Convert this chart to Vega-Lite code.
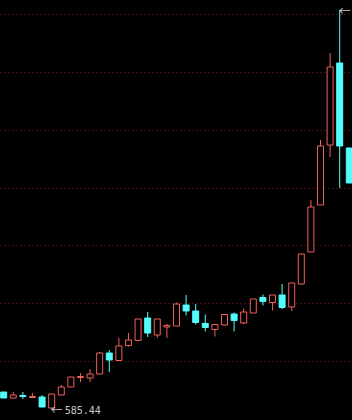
{
  "$schema": "https://vega.github.io/schema/vega-lite/v6.json",
  "width": 352,
  "height": 420,
  "autosize": {"type": "none"},
  "padding": 0,
  "background": "#000000",
  "config": {"view": {"stroke": null}},
  "datasets": {
    "k": [
      {"i": 0, "dir": "down", "open": 627.94, "close": 612.94, "high": 627.94, "low": 612.94},
      {"i": 1, "dir": "up", "open": 612.94, "close": 620.44, "high": 627.94, "low": 612.94},
      {"i": 2, "dir": "down", "open": 619.19, "close": 616.69, "high": 627.94, "low": 610.44},
      {"i": 3, "dir": "up", "open": 614.19, "close": 616.69, "high": 625.44, "low": 614.19},
      {"i": 4, "dir": "down", "open": 615.44, "close": 590.44, "high": 620.44, "low": 590.44},
      {"i": 5, "dir": "up", "open": 587.94, "close": 622.94, "high": 622.94, "low": 585.44},
      {"i": 6, "dir": "up", "open": 620.44, "close": 640.44, "high": 645.44, "low": 620.44},
      {"i": 7, "dir": "up", "open": 640.44, "close": 665.44, "high": 665.44, "low": 640.44},
      {"i": 8, "dir": "up", "open": 664.19, "close": 666.69, "high": 675.44, "low": 652.94},
      {"i": 9, "dir": "up", "open": 662.94, "close": 672.94, "high": 685.44, "low": 652.94},
      {"i": 10, "dir": "up", "open": 672.94, "close": 725.44, "high": 727.94, "low": 672.94},
      {"i": 11, "dir": "down", "open": 725.44, "close": 707.94, "high": 732.94, "low": 677.94},
      {"i": 12, "dir": "up", "open": 706.69, "close": 742.94, "high": 762.94, "low": 706.69},
      {"i": 13, "dir": "up", "open": 744.19, "close": 757.94, "high": 775.44, "low": 741.69},
      {"i": 14, "dir": "up", "open": 756.69, "close": 810.44, "high": 810.44, "low": 756.69},
      {"i": 15, "dir": "down", "open": 812.94, "close": 775.44, "high": 827.94, "low": 765.44},
      {"i": 16, "dir": "up", "open": 770.44, "close": 810.44, "high": 810.44, "low": 762.94},
      {"i": 17, "dir": "up", "open": 790.44, "close": 794.19, "high": 797.94, "low": 762.94},
      {"i": 18, "dir": "up", "open": 792.94, "close": 847.94, "high": 851.69, "low": 792.94},
      {"i": 19, "dir": "down", "open": 845.44, "close": 830.44, "high": 870.44, "low": 819.19},
      {"i": 20, "dir": "down", "open": 830.44, "close": 801.69, "high": 847.94, "low": 796.69},
      {"i": 21, "dir": "down", "open": 799.19, "close": 789.19, "high": 821.69, "low": 779.19},
      {"i": 22, "dir": "up", "open": 784.19, "close": 796.69, "high": 796.69, "low": 766.69},
      {"i": 23, "dir": "up", "open": 795.44, "close": 821.69, "high": 821.69, "low": 795.44},
      {"i": 24, "dir": "down", "open": 822.94, "close": 806.69, "high": 826.69, "low": 779.19},
      {"i": 25, "dir": "up", "open": 800.44, "close": 827.94, "high": 836.69, "low": 797.94},
      {"i": 26, "dir": "up", "open": 825.44, "close": 860.44, "high": 860.44, "low": 825.44},
      {"i": 27, "dir": "down", "open": 864.19, "close": 854.19, "high": 871.69, "low": 844.19},
      {"i": 28, "dir": "up", "open": 851.69, "close": 870.44, "high": 870.44, "low": 831.69},
      {"i": 29, "dir": "down", "open": 870.44, "close": 839.19, "high": 897.94, "low": 835.44},
      {"i": 30, "dir": "up", "open": 840.44, "close": 900.44, "high": 900.44, "low": 830.44},
      {"i": 31, "dir": "up", "open": 897.94, "close": 972.94, "high": 972.94, "low": 897.94},
      {"i": 32, "dir": "up", "open": 977.94, "close": 1090.44, "high": 1107.94, "low": 977.94},
      {"i": 33, "dir": "up", "open": 1095.44, "close": 1242.94, "high": 1257.94, "low": 1095.44},
      {"i": 34, "dir": "up", "open": 1245.44, "close": 1440.44, "high": 1475.44, "low": 1215.44},
      {"i": 35, "dir": "down", "open": 1450.44, "close": 1242.94, "high": 1582.94, "low": 1137.94},
      {"i": 36, "dir": "down", "open": 1237.94, "close": 1150.44, "high": 1237.94, "low": 1150.44}
    ],
    "labels": [
      {"i": 5, "price": 585.44, "label": "585.44"},
      {"i": 35, "price": 1582.94, "label": "1582.94"}
    ]
  },
  "data": {"name": "k"},
  "encoding": {
    "x": {"field": "i", "type": "quantitative", "scale": {"domain": [0.1397, 35.76], "nice": false, "zero": false}, "axis": null}
  },
  "layer": [
    {
      "mark": {"type": "rule", "strokeWidth": 1},
      "encoding": {
        "y": {"field": "high", "type": "quantitative",
          "scale": {"domain": [557.94, 1607.94], "nice": false, "zero": false},
          "axis": {"values": [1572.19, 1427.69, 1283.19, 1138.69, 994.19, 849.69, 705.19], "grid": true, "gridDash": [1, 3], "gridColor": "#8a1c1c", "gridOpacity": 1, "gridWidth": 1, "labels": false, "ticks": false, "domain": false, "title": null}},
        "y2": {"field": "low"},
        "stroke": {"field": "dir", "type": "nominal", "scale": {"domain": ["up", "down"], "range": ["#f0605a", "#54fcfc"]}, "legend": null}
      }
    },
    {
      "mark": {"type": "bar", "width": 6, "strokeWidth": 1},
      "encoding": {
        "y": {"field": "open", "type": "quantitative"},
        "y2": {"field": "close"},
        "stroke": {"field": "dir", "type": "nominal", "legend": null},
        "fill": {"field": "dir", "type": "nominal", "scale": {"domain": ["up", "down"], "range": ["#000000", "#54fcfc"]}, "legend": null},
        "fillOpacity": {"value": 1}
      }
    },
    {
      "data": {"name": "labels"},
      "mark": {"type": "text", "align": "left", "baseline": "middle", "font": "Noto Sans CJK SC", "fontSize": 12, "dy": 2, "dx": -1, "color": "#c8c8c8"},
      "encoding": {
        "y": {"field": "price", "type": "quantitative"},
        "text": {"value": "←"}
      }
    },
    {
      "data": {"name": "labels"},
      "mark": {"type": "text", "align": "left", "baseline": "middle", "font": "DejaVu Sans Mono", "fontSize": 10, "dy": 2, "dx": 13, "color": "#c8c8c8"},
      "encoding": {
        "y": {"field": "price", "type": "quantitative"},
        "text": {"field": "label"}
      }
    }
  ]
}
